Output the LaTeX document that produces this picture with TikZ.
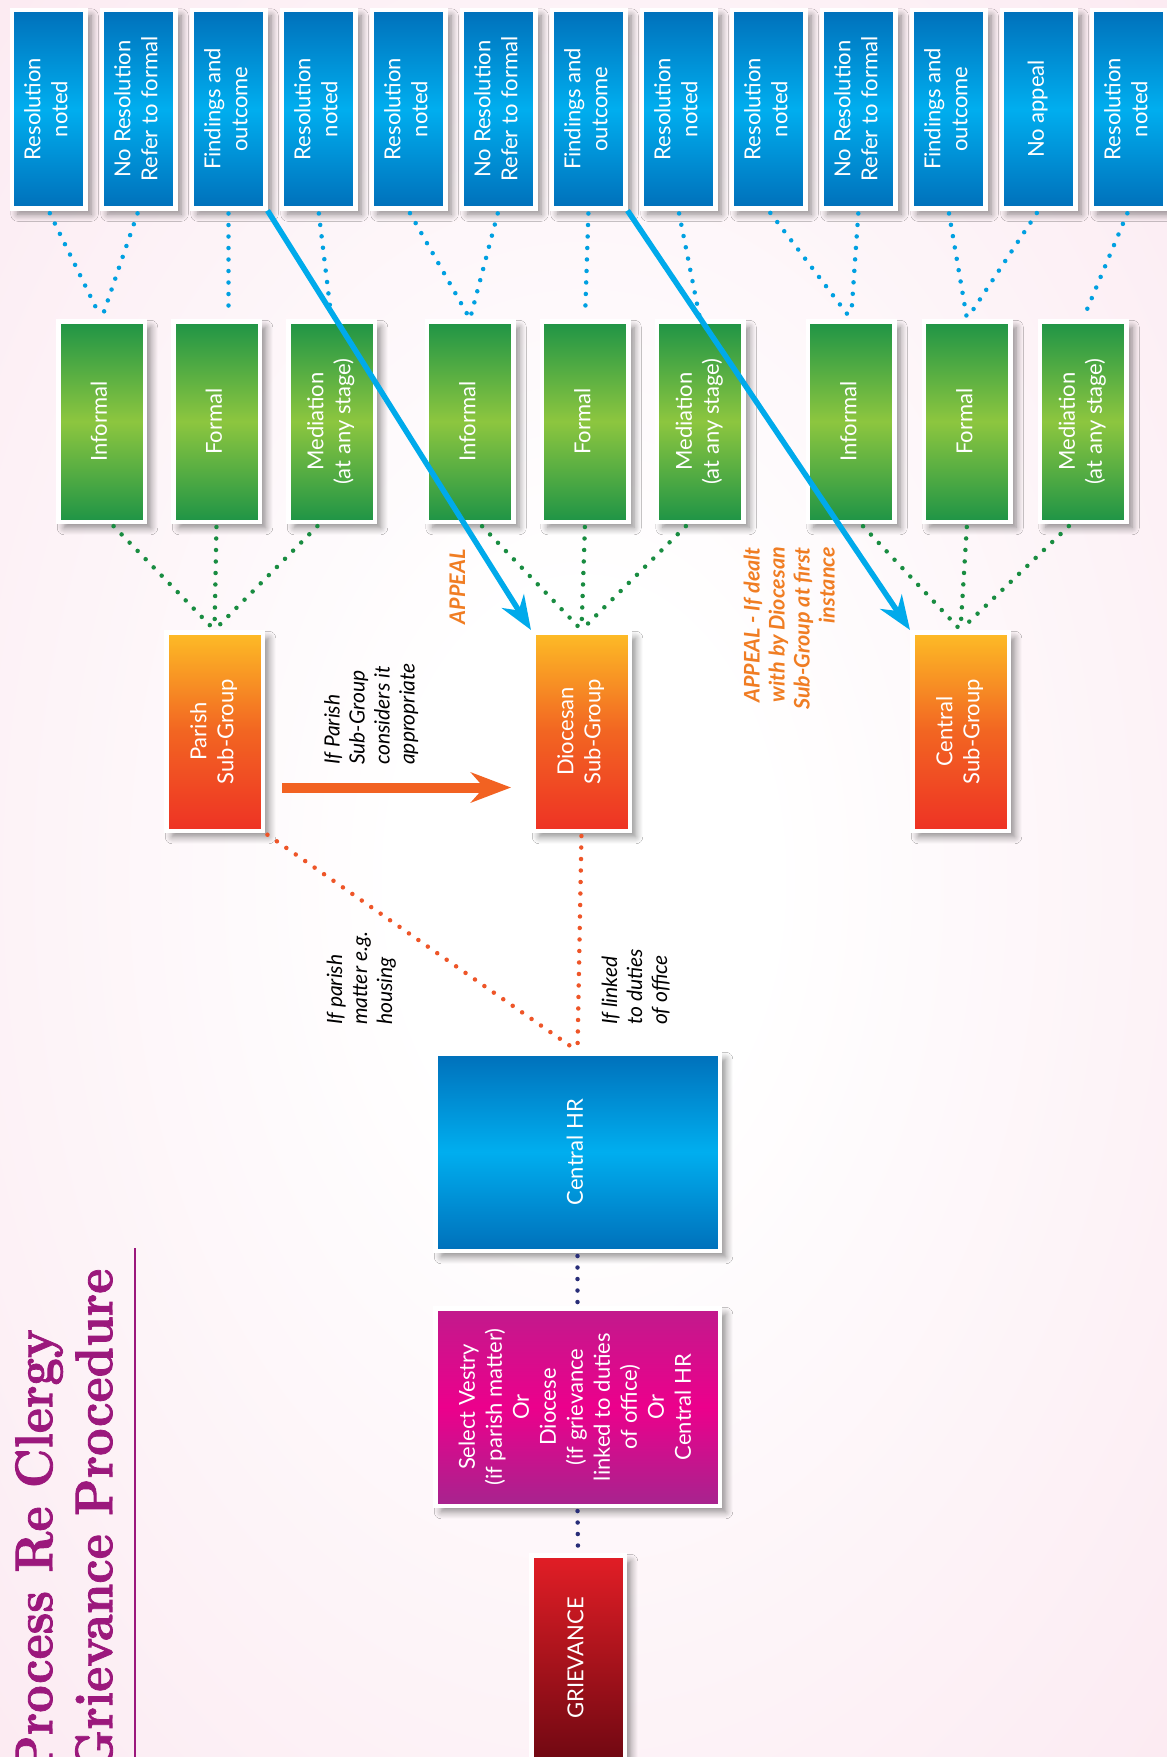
\documentclass[tikz,border=0pt]{standalone}
\usepackage{fontspec}
\usepackage{graphicx}
\usetikzlibrary{calc, arrows.meta, shadows.blur}
\newfontfamily\boxfont{Lato}
\newfontfamily\titlefont{lmroman10-bold.otf}[FakeBold=1.6]

\definecolor{bluedark}{RGB}{0,112,186}
\definecolor{bluelight}{RGB}{0,174,239}
\definecolor{greendark}{RGB}{30,148,70}
\definecolor{greenlight}{RGB}{141,198,63}
\definecolor{orangetop}{RGB}{253,188,38}
\definecolor{orangemid}{RGB}{242,101,34}
\definecolor{orangebot}{RGB}{238,50,36}
\definecolor{magtop}{RGB}{193,26,140}
\definecolor{magmid}{RGB}{236,0,140}
\definecolor{magbot}{RGB}{166,36,142}
\definecolor{redtop}{RGB}{226,30,38}
\definecolor{redbot}{RGB}{112,8,18}
\definecolor{bgpink}{RGB}{249,218,231}
\definecolor{titlecol}{RGB}{155,24,124}
\definecolor{appealcol}{RGB}{240,125,35}
\definecolor{dotblue}{RGB}{0,160,225}
\definecolor{dotgreen}{RGB}{25,140,65}
\definecolor{dotred}{RGB}{238,85,40}
\definecolor{dotnavy}{RGB}{40,45,120}
\definecolor{arrowblue}{RGB}{0,170,235}
\definecolor{arroworange}{RGB}{242,98,34}

\pgfdeclareradialshading{pagebg}{\pgfpoint{0bp}{0bp}}{color(0bp)=(white); color(8bp)=(white); color(58bp)=(bgpink)}

\newcommand{\vtext}[2][c]{\rotatebox{90}{\begin{tabular}{@{}#1@{}}#2\end{tabular}}}
\newcommand{\narrow}[1]{\scalebox{0.9}[1]{#1}}

\begin{document}
\begin{tikzpicture}[x=1pt, y=-1pt,
		box/.style={draw=white, line width=4.5pt, inner sep=0pt, text=white,
			font=\boxfont\fontsize{22}{27}\selectfont,
			blur shadow={shadow xshift=6pt, shadow yshift=-6pt, shadow opacity=45,
				shadow blur steps=8, shadow blur radius=7pt}},
		outcome/.style={box, minimum width=73.5pt, minimum height=198.5pt,
			top color=bluedark, bottom color=bluedark, middle color=bluelight},
		stage/.style={box, minimum width=86.5pt, minimum height=200.5pt,
			top color=greendark, bottom color=greendark, middle color=greenlight},
		subgroup/.style={box, minimum width=96.5pt, minimum height=198.5pt,
			top color=orangetop, bottom color=orangebot, middle color=orangemid},
		wide/.style={box, minimum width=284.5pt, minimum height=197.5pt},
		note/.style={inner sep=0pt, font=\boxfont\itshape\fontsize{21}{25}\selectfont},
		appealnote/.style={note, text=appealcol, font=\boxfont\bfseries\itshape\fontsize{21.5}{25}\selectfont},
		dotline/.style={line width=4.5pt, line cap=round, dash pattern=on 0pt off 11.5pt, shorten <=3pt, shorten >=3pt},
		appealarrow/.style={arrowblue, line width=5.5pt, -{Stealth[length=34pt, width=26pt, inset=11pt]}},
		pusharrow/.style={arroworange, line width=10pt, -{Stealth[length=40pt, width=30pt, inset=13pt]}}]

	\useasboundingbox (0,0) rectangle (1167,1757);
	\clip (0,0) rectangle (1167,1757);
	\shade[shading=pagebg] (0,0) rectangle (1167,1757);

	% outcomes, left to right
	\node[outcome] (t1)  at (48.5,109)        {\vtext{Resolution\\noted}};
	\node[outcome] (t2)  at ($(t1)+(90,0)$)   {\vtext{No Resolution\\Refer to formal}};
	\node[outcome] (t3)  at ($(t2)+(90,0)$)   {\vtext{Findings and\\outcome}};
	\node[outcome] (t4)  at ($(t3)+(90,0)$)   {\vtext{Resolution\\noted}};
	\node[outcome] (t5)  at ($(t4)+(90,0)$)   {\vtext{Resolution\\noted}};
	\node[outcome] (t6)  at ($(t5)+(90,0)$)   {\vtext{No Resolution\\Refer to formal}};
	\node[outcome] (t7)  at ($(t6)+(90,0)$)   {\vtext{Findings and\\outcome}};
	\node[outcome] (t8)  at ($(t7)+(90,0)$)   {\vtext{Resolution\\noted}};
	\node[outcome] (t9)  at ($(t8)+(90,0)$)   {\vtext{Resolution\\noted}};
	\node[outcome] (t10) at ($(t9)+(90,0)$)   {\vtext{No Resolution\\Refer to formal}};
	\node[outcome] (t11) at ($(t10)+(90,0)$)  {\vtext{Findings and\\outcome}};
	\node[outcome] (t12) at ($(t11)+(90,0)$)  {\vtext{No appeal}};
	\node[outcome] (t13) at ($(t12)+(90,0)$)  {\vtext{Resolution\\noted}};

	\node[stage] (inf1)  at (101.5,421.5)      {\vtext{Informal}};
	\node[stage] (form1) at ($(inf1)+(115,0)$) {\vtext{Formal}};
	\node[stage] (med1)  at ($(form1)+(115,0)$) {\vtext{Mediation\\(at any stage)}};
	\node[stage] (inf2)  at (470,421.5)        {\vtext{Informal}};
	\node[stage] (form2) at ($(inf2)+(115,0)$) {\vtext{Formal}};
	\node[stage] (med2)  at ($(form2)+(115,0)$) {\vtext{Mediation\\(at any stage)}};
	\node[stage] (inf3)  at (851,421.5)        {\vtext{Informal}};
	\node[stage] (form3) at ($(inf3)+(116,0)$) {\vtext{Formal}};
	\node[stage] (med3)  at ($(form3)+(116,0)$) {\vtext{Mediation\\(at any stage)}};

	\node[subgroup] (parish)    at (214.5,731.5) {\vtext{Parish\\Sub-Group}};
	\node[subgroup] (diocesan)  at (581.5,731.5) {\vtext{Diocesan\\Sub-Group}};
	\node[subgroup] (central)   at (960.5,731.5) {\vtext{Central\\Sub-Group}};

	\node[wide, top color=bluedark, bottom color=bluedark, middle color=bluelight] (hr) at (577.5,1152) {\vtext{Central HR}};
	\node[wide, top color=magtop, bottom color=magbot, middle color=magmid] (vestry) at (577.5,1407)
		{\vtext{Select Vestry\\(if parish matter)\\Or\\Diocese\\(if grievance\\linked to duties\\of office)\\Or\\Central HR}};
	\node[box, minimum width=93.5pt, minimum height=205.5pt, top color=redtop, bottom color=redbot] (grievance) at (578,1658) {\vtext{GRIEVANCE}};

	% title
	\node[inner sep=0pt, anchor=south west, text=titlecol, font=\titlefont\fontsize{53}{60}\selectfont] (title) at (10,1773)
		{\vtext[l]{\narrow{Process Re Clergy}\\\narrow{Grievance Procedure}}};
	\draw[titlecol, line width=2.2pt] (135,1248) -- (135,1770);

	\draw[dotline, dotblue] (t1.south) -- (inf1.north);
	\draw[dotline, dotblue] (t2.south) -- (inf1.north);
	\draw[dotline, dotblue] (t3.south) -- (t3.south |- form1.north);
	\draw[dotline, dotblue] (t4.south) -- (med1.north);
	\draw[dotline, dotblue] (t5.south) -- (inf2.north);
	\draw[dotline, dotblue] (t6.south) -- (inf2.north);
	\draw[dotline, dotblue] (t7.south) -- (form2.north);
	\draw[dotline, dotblue] (t8.south) -- (med2.north);
	\draw[dotline, dotblue] (t9.south) -- (inf3.north);
	\draw[dotline, dotblue] (t10.south) -- (inf3.north);
	\draw[dotline, dotblue] (t11.south) -- (form3.north);
	\draw[dotline, dotblue] (t12.south) -- (form3.north);
	\draw[dotline, dotblue] (t13.south) -- (med3.north);

	\draw[dotline, dotgreen] ([xshift=10pt]inf1.south) -- (parish.north);
	\draw[dotline, dotgreen] (form1.south) -- (parish.north);
	\draw[dotline, dotgreen] ([xshift=-12pt]med1.south) -- (parish.north);
	\draw[dotline, dotgreen] ([xshift=10pt]inf2.south) -- (diocesan.north);
	\draw[dotline, dotgreen] (form2.south) -- (diocesan.north);
	\draw[dotline, dotgreen] ([xshift=-12pt]med2.south) -- (diocesan.north);
	\draw[dotline, dotgreen] ([xshift=10pt]inf3.south) -- (central.north);
	\draw[dotline, dotgreen] (form3.south) -- (central.north);
	\draw[dotline, dotgreen] ([xshift=-12pt]med3.south) -- (central.north);

	\draw[dotline, dotred] (parish.south east) -- (hr.north);
	\draw[dotline, dotred] (diocesan.south) -- (hr.north);
	\draw[dotline, dotnavy] (hr.south) -- (vestry.north);
	\draw[dotline, dotnavy] (vestry.south) -- (grievance.north);

	\draw[pusharrow, shorten <=17pt, shorten >=20pt] ([yshift=-56pt]parish.east) -- ([yshift=-56pt]diocesan.west);
	\draw[appealarrow] (t3.south east) -- (diocesan.north west);
	\draw[appealarrow] (t7.south east) -- (central.north west);

	\node[note, anchor=south] (considers) at (372,765) {\vtext[l]{If Parish\\Sub-Group\\considers it\\appropriate}};
	\node[note, anchor=south] (housing) at (362,1025) {\vtext[l]{If parish\\matter e.g.\\housing}};
	\node[note, anchor=south] (duties) at (637,1025) {\vtext[l]{If linked\\to duties\\of office}};
	\node[appealnote] (appeal) at (460,587) {\vtext{APPEAL}};
	\node[appealnote, anchor=north] (appealfirst) at (792,547) {\vtext[r]{APPEAL - If dealt\\with by Diocesan\\Sub-Group at first\\instance}};

\end{tikzpicture}
\end{document}
